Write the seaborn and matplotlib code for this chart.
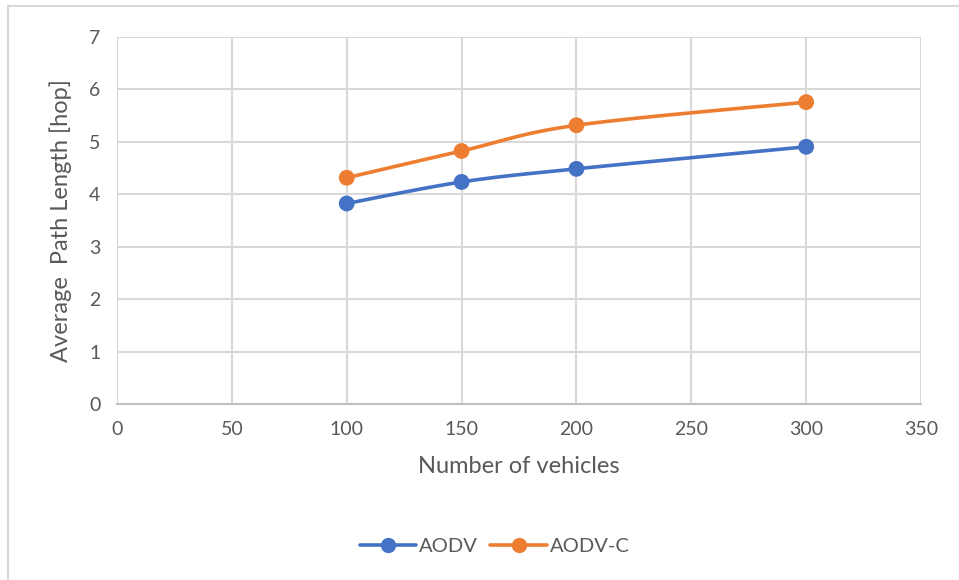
import numpy as np
import pandas as pd
import matplotlib
matplotlib.use("Agg")
import matplotlib.pyplot as plt
import seaborn as sns
from matplotlib.lines import Line2D

# Data
vehicles = [100, 150, 200, 300]
aodv = [3.82, 4.23, 4.48, 4.90]
aodv_c = [4.31, 4.82, 5.31, 5.75]
series_names = ["AODV", "AODV-C"]
colors = ["#4472C4", "#ED7D31"]
x_ticks = [0, 50, 100, 150, 200, 250, 300, 350]
y_ticks = [0, 1, 2, 3, 4, 5, 6, 7]

df = pd.DataFrame({
    "vehicles": vehicles * 2,
    "hops": aodv + aodv_c,
    "series": [series_names[0]] * len(vehicles) + [series_names[1]] * len(vehicles),
})

sns.set_theme(style="white")
plt.rcParams["font.family"] = ["Lato", "DejaVu Sans"]
text_color = "#595959"
grid_color = "#D9D9D9"


def smooth_curve(xs, ys, steps=40):
    """Catmull-Rom style smoothing through every data point."""
    xs = np.asarray(xs, float)
    ys = np.asarray(ys, float)
    px = np.concatenate([[xs[0]], xs, [xs[-1]]])
    py = np.concatenate([[ys[0]], ys, [ys[-1]]])
    out_x, out_y = [], []
    for i in range(1, len(px) - 2):
        p0x, p1x, p2x, p3x = px[i - 1], px[i], px[i + 1], px[i + 2]
        p0y, p1y, p2y, p3y = py[i - 1], py[i], py[i + 1], py[i + 2]
        c1x = p1x + (p2x - p0x) / 6
        c1y = p1y + (p2y - p0y) / 6
        c2x = p2x - (p3x - p1x) / 6
        c2y = p2y - (p3y - p1y) / 6
        t = np.linspace(0, 1, steps)
        bx = (1 - t) ** 3 * p1x + 3 * (1 - t) ** 2 * t * c1x + 3 * (1 - t) * t ** 2 * c2x + t ** 3 * p2x
        by = (1 - t) ** 3 * p1y + 3 * (1 - t) ** 2 * t * c1y + 3 * (1 - t) * t ** 2 * c2y + t ** 3 * p2y
        out_x.extend(bx)
        out_y.extend(by)
    return np.array(out_x), np.array(out_y)


fig = plt.figure(figsize=(9.59, 5.8), dpi=100)
ax = fig.add_axes([0.122, 0.3034, 0.8384, 0.6336])

palette = dict(zip(series_names, colors))
for name in series_names:
    sub = df[df["series"] == name]
    sx, sy = smooth_curve(sub["vehicles"], sub["hops"])
    ax.plot(sx, sy, color=palette[name], lw=2.6, solid_capstyle="round", zorder=3)

sns.scatterplot(data=df, x="vehicles", y="hops", hue="series", palette=palette,
                s=130, edgecolor="none", legend=False, ax=ax, zorder=4)

ax.set_xlim(0, 350)
ax.set_ylim(0, 7)
ax.set_xticks(x_ticks)
ax.set_yticks(y_ticks)
ax.grid(True, color=grid_color, lw=1.5)
ax.set_axisbelow(True)
for side in ["top", "right", "left"]:
    ax.spines[side].set_visible(False)
ax.spines["bottom"].set_color("#BFBFBF")
ax.spines["bottom"].set_linewidth(1.5)
ax.tick_params(axis="both", length=0, labelsize=14, labelcolor=text_color, pad=12)
ax.tick_params(axis="x", pad=12)

ax.set_xlabel("Number of vehicles", fontsize=17, color=text_color, labelpad=13)
ax.set_ylabel("Average  Path Length [hop]", fontsize=17, color=text_color, labelpad=12)

handles = [Line2D([0], [0], color=c, lw=2.6, marker="o", markersize=10) for c in colors]
leg = fig.legend(handles, series_names, loc="center", bbox_to_anchor=(0.516, 0.057),
                 ncol=2, frameon=False, fontsize=14.5, handlelength=2.8,
                 handletextpad=0.15, columnspacing=0.6)
for t in leg.get_texts():
    t.set_color(text_color)

# Chart frame edges
fig.add_artist(Line2D([8 / 959, 8 / 959], [0, 1 - 6 / 580], transform=fig.transFigure,
                      color="#D9D9D9", lw=1.5))
fig.add_artist(Line2D([8 / 959, 1], [1 - 6 / 580, 1 - 6 / 580], transform=fig.transFigure,
                      color="#D9D9D9", lw=1.5))

fig.savefig("out.png", dpi=100, facecolor="white")
